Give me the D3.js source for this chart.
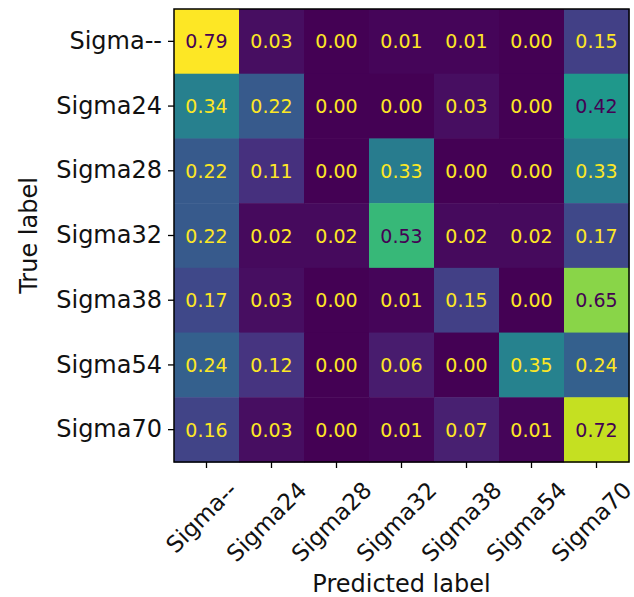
<!DOCTYPE html>
<html>
<head>
<meta charset="utf-8">
<script src="https://cdn.jsdelivr.net/npm/d3@7"></script>
<style>
  body { margin: 0; background: #fff; }
  text { font-family: "DejaVu Sans", sans-serif; }
</style>
</head>
<body>
<svg id="chart"></svg>
<script>
const trueLabels = ["Sigma--", "Sigma24", "Sigma28", "Sigma32", "Sigma38", "Sigma54", "Sigma70"];
const predLabels = ["Sigma--", "Sigma24", "Sigma28", "Sigma32", "Sigma38", "Sigma54", "Sigma70"];
const rowSigmaNone = [0.79, 0.03, 0.00, 0.01, 0.01, 0.00, 0.15];
const rowSigma24 = [0.34, 0.22, 0.00, 0.00, 0.03, 0.00, 0.42];
const rowSigma28 = [0.22, 0.11, 0.00, 0.33, 0.00, 0.00, 0.33];
const rowSigma32 = [0.22, 0.02, 0.02, 0.53, 0.02, 0.02, 0.17];
const rowSigma38 = [0.17, 0.03, 0.00, 0.01, 0.15, 0.00, 0.65];
const rowSigma54 = [0.24, 0.12, 0.00, 0.06, 0.00, 0.35, 0.24];
const rowSigma70 = [0.16, 0.03, 0.00, 0.01, 0.07, 0.01, 0.72];
const rows = [rowSigmaNone, rowSigma24, rowSigma28, rowSigma32, rowSigma38, rowSigma54, rowSigma70];

const fullWidth = 634, fullHeight = 597;
const plot = { left: 174, top: 9, right: 629, bottom: 462 };

const svg = d3.select('#chart')
  .attr('width', fullWidth)
  .attr('height', fullHeight);

const cells = [];
rows.forEach((r, i) => r.forEach((v, j) => cells.push({ t: trueLabels[i], p: predLabels[j], v })));

const vmin = d3.min(cells, d => d.v), vmax = d3.max(cells, d => d.v);
const color = d3.scaleSequential(d3.interpolateViridis).domain([vmin, vmax]);
const thresh = (vmin + vmax) / 2;

const x = d3.scaleBand().domain(predLabels).range([plot.left, plot.right]);
const y = d3.scaleBand().domain(trueLabels).range([plot.top, plot.bottom]);

svg.append('g')
  .selectAll('rect')
  .data(cells)
  .join('rect')
  .attr('x', d => x(d.p))
  .attr('y', d => y(d.t))
  .attr('width', x.bandwidth() + 0.5)
  .attr('height', y.bandwidth() + 0.5)
  .attr('fill', d => color(d.v));

svg.append('g')
  .selectAll('text')
  .data(cells)
  .join('text')
  .attr('x', d => x(d.p) + x.bandwidth() / 2)
  .attr('y', d => y(d.t) + y.bandwidth() / 2)
  .attr('text-anchor', 'middle')
  .attr('dominant-baseline', 'central')
  .attr('font-size', 19)
  .attr('fill', d => d.v < thresh ? color(vmax) : color(vmin))
  .text(d => d.v.toFixed(2));

// frame
svg.append('rect')
  .attr('x', plot.left).attr('y', plot.top)
  .attr('width', plot.right - plot.left).attr('height', plot.bottom - plot.top)
  .attr('fill', 'none').attr('stroke', '#000').attr('stroke-width', 1.5);

// y axis
const yAxis = svg.append('g')
  .attr('transform', `translate(${plot.left},0)`)
  .call(d3.axisLeft(y).tickSize(6).tickPadding(6));
yAxis.select('.domain').remove();
yAxis.selectAll('line').attr('stroke-width', 1.3);
yAxis.selectAll('text').attr('font-size', 24).attr('fill', '#111');

// x axis
const xAxis = svg.append('g')
  .attr('transform', `translate(0,${plot.bottom})`)
  .call(d3.axisBottom(x).tickSize(6).tickFormat(''));
xAxis.select('.domain').remove();
xAxis.selectAll('line').attr('stroke-width', 1.3);

const xl = svg.append('g').selectAll('text')
  .data(predLabels)
  .join('text')
  .attr('font-size', 23)
  .attr('fill', '#111')
  .attr('text-anchor', 'middle')
  .attr('dominant-baseline', 'central')
  .text(d => d);
xl.each(function (d) {
  const w = this.getComputedTextLength();
  const h = 17;
  const half = (w + h) / (2 * Math.SQRT2);
  const cx = x(d) + x.bandwidth() / 2 - 5;
  const cy = plot.bottom + 6 + 12 + half;
  d3.select(this).attr('transform', `translate(${cx},${cy}) rotate(-45)`);
});

svg.append('text')
  .attr('x', (plot.left + plot.right) / 2)
  .attr('y', 592)
  .attr('text-anchor', 'middle')
  .attr('font-size', 24)
  .attr('fill', '#111')
  .text('Predicted label');

svg.append('text')
  .attr('transform', `translate(37,${(plot.top + plot.bottom) / 2}) rotate(-90)`)
  .attr('text-anchor', 'middle')
  .attr('font-size', 24)
  .attr('fill', '#111')
  .text('True label');
</script>
</body>
</html>
